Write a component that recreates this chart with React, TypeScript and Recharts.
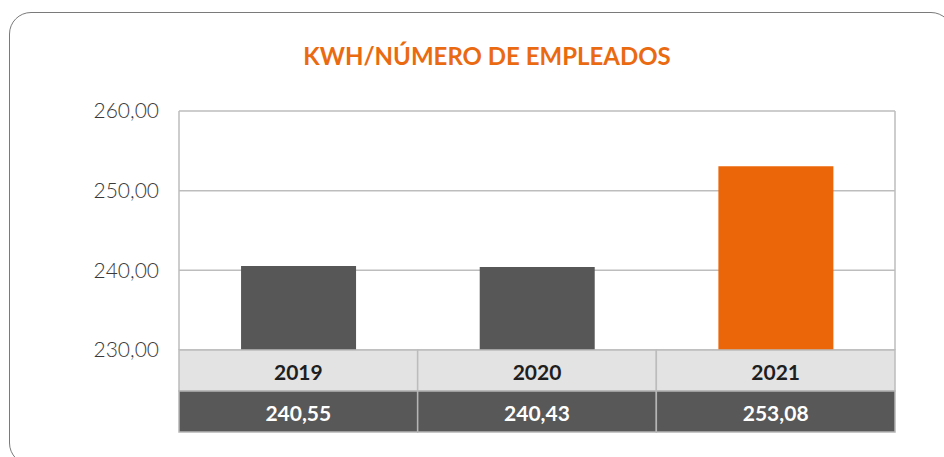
import React from 'react';
import { BarChart, Bar, XAxis, YAxis, CartesianGrid, Cell } from 'recharts';

const title = 'KWH/NÚMERO DE EMPLEADOS';
const categories = ['2019', '2020', '2021'];
const values = [240.55, 240.43, 253.08];
const yTicks = [230, 240, 250, 260];
const barColors = ['#575757', '#575757', '#EB6608'];

const data = categories.map((c, i) => ({ year: c, value: values[i] }));

const fmt = (v: number) => v.toFixed(2).replace('.', ',');

const ROW_H = 41;

const TableTick = (props: any) => {
  const { x, y, payload, width } = props;
  const idx = typeof props.index === 'number' ? props.index : categories.indexOf(payload.value);
  const w = (typeof width === 'number' && width > 0 ? width : 716) / categories.length;
  const left = x - w / 2;
  return (
    <g>
      <rect x={left} y={y} width={w} height={ROW_H} fill="#e3e3e3" stroke="#bcbcbc" strokeWidth={1.5} />
      <rect x={left} y={y + ROW_H} width={w} height={ROW_H} fill="#585858" stroke="#b5b5b5" strokeWidth={1.5} />
      <text
        x={x}
        y={y + ROW_H / 2 + 1}
        textAnchor="middle"
        dominantBaseline="central"
        fontFamily="Lato, sans-serif"
        fontWeight={700}
        fontSize={21}
        fill="#1e1e1e"
      >
        {payload.value}
      </text>
      <text
        x={x}
        y={y + ROW_H * 1.5 + 1}
        textAnchor="middle"
        dominantBaseline="central"
        fontFamily="Lato, sans-serif"
        fontWeight={700}
        fontSize={21}
        fill="#ffffff"
      >
        {fmt(values[idx])}
      </text>
    </g>
  );
};

export default function App() {
  return (
    <div
      style={{
        position: 'absolute',
        left: 0,
        top: 0,
        width: 944,
        height: 457,
        overflow: 'hidden',
        background: '#ffffff',
      }}
    >
      <div
        style={{
          position: 'absolute',
          left: 9,
          top: 12,
          width: 944,
          height: 453,
          border: '1.5px solid #7a7a7a',
          borderRadius: 22,
          boxSizing: 'border-box',
        }}
      />
      <div
        style={{
          position: 'absolute',
          left: 0,
          top: 41,
          width: 974,
          textAlign: 'center',
          fontFamily: 'Lato, sans-serif',
          fontWeight: 700,
          fontSize: 24,
          color: '#EA6A12',
          lineHeight: '30px',
        }}
      >
        {title}
      </div>
      <div style={{ position: 'absolute', left: 0, top: 0 }}>
        <BarChart
          width={944}
          height={457}
          data={data}
          margin={{ top: 111, right: 49, bottom: 0, left: 9 }}
          barCategoryGap="26%"
        >
          <CartesianGrid
            stroke="#bdbdbd"
            strokeWidth={1.5}
            horizontal={true}
            vertical={true}
            verticalCoordinatesGenerator={({ offset }: any) => [offset.left, offset.left + offset.width]}
          />
          <XAxis
            dataKey="year"
            axisLine={false}
            tickLine={false}
            tickSize={0}
            tickMargin={0}
            height={107}
            interval={0}
            tick={<TableTick />}
          />
          <YAxis
            domain={[230, 260]}
            ticks={yTicks}
            width={170}
            axisLine={false}
            tickLine={false}
            tickMargin={14}
            tickFormatter={(v: number) => fmt(v)}
            tick={{ fontFamily: 'Lato, sans-serif', fontWeight: 300, fontSize: 21, fill: '#3a3a3a' }}
          />
          <Bar dataKey="value" isAnimationActive={false}>
            {data.map((d, i) => (
              <Cell key={d.year} fill={barColors[i]} />
            ))}
          </Bar>
        </BarChart>
      </div>
    </div>
  );
}
